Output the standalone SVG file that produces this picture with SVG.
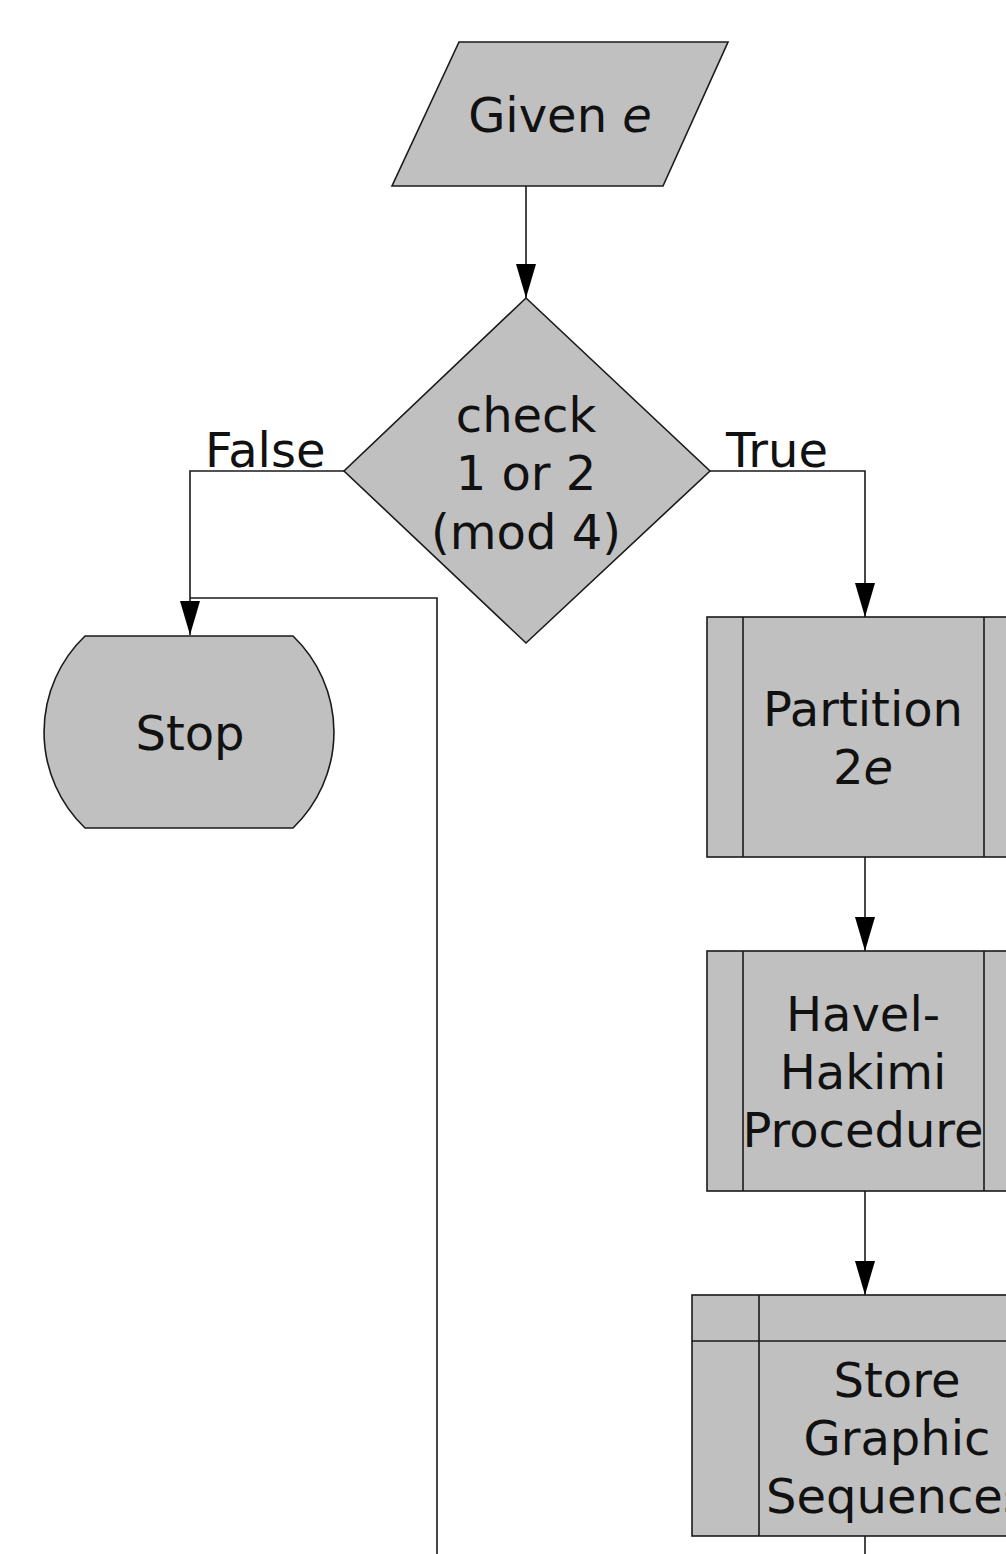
<svg xmlns="http://www.w3.org/2000/svg" width="1006" height="1554" viewBox="0 0 1006 1554">
<defs>
<style>
.shape{fill:#c0c0c0;stroke:#1a1a1a;stroke-width:1.6}
.line{fill:none;stroke:#1a1a1a;stroke-width:1.6}
.t{font-family:"DejaVu Sans",Verdana,sans-serif;font-size:48px;fill:#111;text-anchor:middle}
.lbl{font-family:"DejaVu Sans",Verdana,sans-serif;font-size:48px;fill:#111}
</style>
<marker id="arr" markerUnits="userSpaceOnUse" markerWidth="40" markerHeight="24" viewBox="0 -12 36 24" refX="34" refY="0" orient="auto">
<path d="M0,-10 L34,0 L0,10 Z" fill="#000"/>
</marker>
</defs>
<rect width="1006" height="1554" fill="#fff"/>
<g id="connectors">
<path class="line" d="M526,186 V298" marker-end="url(#arr)"/>
<path class="line" d="M344,471 H190 V635" marker-end="url(#arr)"/>
<path class="line" d="M710,471 H865 V617" marker-end="url(#arr)"/>
<path class="line" d="M437,1554 V598 H190"/>
<path class="line" d="M865,857 V951" marker-end="url(#arr)"/>
<path class="line" d="M865,1191 V1295" marker-end="url(#arr)"/>
<path class="line" d="M865,1536 V1554"/>
<text class="lbl" x="205" y="467">False</text>
<text class="lbl" x="726" y="467">True</text>
</g>
<g id="given">
<polygon class="shape" points="459,42 728,42 663,186 392,186"/>
<text class="t" x="560" y="132">Given <tspan font-style="italic">e</tspan></text>
</g>
<g id="check">
<polygon class="shape" points="526,298 710,471 526,643 344,471"/>
<text class="t" x="526" y="432">check</text>
<text class="t" x="526" y="490">1 or 2</text>
<text class="t" x="526" y="549">(mod 4)</text>
</g>
<g id="stop">
<path class="shape" d="M85,636 H293 A133,133 0 0 1 293,828 H85 A133,133 0 0 1 85,636 Z"/>
<text class="t" x="190" y="750">Stop</text>
</g>
<g id="partition">
<rect class="shape" x="707" y="617" width="320" height="240"/>
<path class="line" d="M743,617 V857 M984,617 V857"/>
<text class="t" x="863" y="726">Partition</text>
<text class="t" x="863" y="784">2<tspan font-style="italic">e</tspan></text>
</g>
<g id="havel">
<rect class="shape" x="707" y="951" width="320" height="240"/>
<path class="line" d="M743,951 V1191 M984,951 V1191"/>
<text class="t" x="863" y="1031">Havel-</text>
<text class="t" x="863" y="1089">Hakimi</text>
<text class="t" x="863" y="1147">Procedure</text>
</g>
<g id="store">
<rect class="shape" x="692" y="1295" width="340" height="241"/>
<path class="line" d="M759,1295 V1536 M692,1341 H1032"/>
<text class="t" x="897" y="1397">Store</text>
<text class="t" x="897" y="1455">Graphic</text>
<text class="t" x="897" y="1513">Sequences</text>
</g>
</svg>
